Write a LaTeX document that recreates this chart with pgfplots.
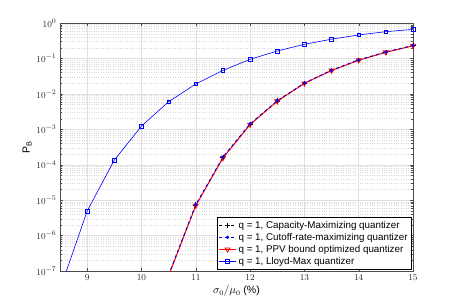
\documentclass[border=0pt]{standalone}
\usepackage{pgfplots}
\pgfplotsset{compat=1.18}
\usetikzlibrary{calc}
\usepackage{fontspec}
\setmainfont{Liberation Sans}
\tikzset{
  capstyle/.style={black, dashed, line width=0.7pt, mark=+, mark size=2.5pt, mark options={solid}},
  cutstyle/.style={blue, dashed, line width=0.8pt, mark=*, mark size=1.2pt, mark options={solid}},
  ppvstyle/.style={red, solid, line width=1pt, mark=triangle, mark size=2.8pt, mark options={rotate=180, line width=0.8pt}},
  lmstyle/.style={blue, solid, line width=0.6pt, mark=square, mark size=1.8pt},
}
\begin{document}
\begin{tikzpicture}
\begin{axis}[
  scale only axis,
  width=353pt, height=248pt,
  xmin=8.5, xmax=15,
  ymode=log, ymin=1e-7, ymax=1,
  xtick={9,10,11,12,13,14,15},
  ytick={1e-7,1e-6,1e-5,1e-4,1e-3,1e-2,1e-1,1},
  tick align=inside,
  tick pos=both,
  major tick length=3pt,
  minor tick length=1.6pt,
  grid=both,
  major grid style={gray!25, line width=0.4pt},
  minor grid style={gray!30, dotted, line width=0.3pt},
  axis line style={gray!60!black, line width=0.5pt},
  tick style={gray!60!black},
  ticklabel style={font=\fontsize{9.5}{10}\selectfont, text=black!85},
  xlabel={$\sigma_0/\mu_0$ (\%)},
  ylabel={P$_\mathrm{B}$},
  xlabel style={font=\fontsize{10.5}{11}\selectfont, yshift=2pt},
  ylabel style={font=\fontsize{10.5}{11}\selectfont, yshift=-2pt},
  legend style={font=\fontsize{9.8}{11}\selectfont,
    at={(0.995,0.006)}, anchor=south east, row sep=-0.5pt, inner sep=1.5pt},
  legend cell align=left,
  clip=true,
]
\addplot[capstyle, forget plot] coordinates {
(10.5,7.6e-8) (11,7.3e-6) (11.5,1.6e-4) (12,1.4e-3) (12.5,6.3e-3) (13,2.0e-2) (13.5,4.6e-2) (14,9.0e-2) (14.5,1.5e-1) (15,2.3e-1)};
\addplot[ppvstyle, forget plot] coordinates {
(10.5,7.4e-8) (11,7.0e-6) (11.5,1.55e-4) (12,1.36e-3) (12.5,6.2e-3) (13,1.98e-2) (13.5,4.55e-2) (14,8.9e-2) (14.5,1.49e-1) (15,2.28e-1)};
\addplot[cutstyle, forget plot] coordinates {
(10.5,7.8e-8) (11,7.5e-6) (11.5,1.65e-4) (12,1.42e-3) (12.5,6.4e-3) (13,2.02e-2) (13.5,4.65e-2) (14,9.1e-2) (14.5,1.52e-1) (15,2.32e-1)};
\addplot[lmstyle, forget plot] coordinates {
(8.5,3e-8) (9,4.9e-6) (9.5,1.35e-4) (10,1.23e-3) (10.5,6.0e-3) (11,1.9e-2) (11.5,4.6e-2) (12,9.4e-2) (12.5,1.62e-1) (13,2.5e-1) (13.5,3.5e-1) (14,4.6e-1) (14.5,5.7e-1) (15,6.6e-1)};
\addlegendimage{capstyle}
\addlegendentry{q = 1, Capacity-Maximizing quantizer}
\addlegendimage{cutstyle}
\addlegendentry{q = 1, Cutoff-rate-maximizing quantizer}
\addlegendimage{ppvstyle}
\addlegendentry{q = 1, PPV bound optimized quantizer}
\addlegendimage{lmstyle}
\addlegendentry{q = 1, Lloyd-Max quantizer}
\end{axis}
\path (current axis.south west) ++(-60pt,-34pt) rectangle ($(current axis.north east)+(44pt,23pt)$);
\end{tikzpicture}
\end{document}
